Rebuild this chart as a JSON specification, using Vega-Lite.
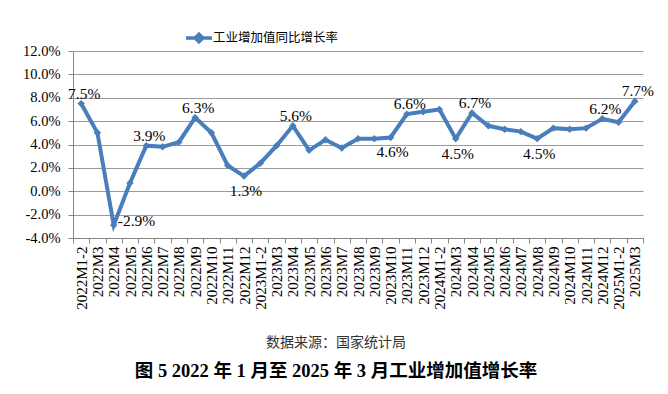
{
  "$schema": "https://vega.github.io/schema/vega-lite/v6.json",
  "autosize": "none",
  "width": 570,
  "height": 187,
  "padding": {"left": 73, "top": 51, "right": 25, "bottom": 156},
  "background": "white",
  "config": {
    "view": {"stroke": null},
    "locale": {"number": {"decimal": ".", "thousands": ",", "grouping": [3], "currency": ["$", ""], "minus": "-"}}
  },
  "title": {
    "text": "数据来源：国家统计局",
    "subtitle": "图 5 2022 年 1 月至 2025 年 3 月工业增加值增长率",
    "orient": "bottom",
    "anchor": "middle",
    "frame": "group",
    "dx": -22,
    "offset": 27,
    "font": "Noto Sans CJK SC",
    "fontSize": 14,
    "fontWeight": "normal",
    "color": "#333333",
    "subtitleFont": "Liberation Serif, Noto Sans CJK SC",
    "subtitleFontSize": 18.5,
    "subtitleFontWeight": "bold",
    "subtitleColor": "#000000",
    "subtitlePadding": 12
  },
  "data": {
    "values": [
      {"m": "2022M1-2", "v": 0.075, "s": "工业增加值同比增长率"},
      {"m": "2022M3", "v": 0.050, "s": "工业增加值同比增长率"},
      {"m": "2022M4", "v": -0.029, "s": "工业增加值同比增长率"},
      {"m": "2022M5", "v": 0.007, "s": "工业增加值同比增长率"},
      {"m": "2022M6", "v": 0.039, "s": "工业增加值同比增长率"},
      {"m": "2022M7", "v": 0.038, "s": "工业增加值同比增长率"},
      {"m": "2022M8", "v": 0.042, "s": "工业增加值同比增长率"},
      {"m": "2022M9", "v": 0.063, "s": "工业增加值同比增长率"},
      {"m": "2022M10", "v": 0.050, "s": "工业增加值同比增长率"},
      {"m": "2022M11", "v": 0.022, "s": "工业增加值同比增长率"},
      {"m": "2022M12", "v": 0.013, "s": "工业增加值同比增长率"},
      {"m": "2023M1-2", "v": 0.024, "s": "工业增加值同比增长率"},
      {"m": "2023M3", "v": 0.039, "s": "工业增加值同比增长率"},
      {"m": "2023M4", "v": 0.056, "s": "工业增加值同比增长率"},
      {"m": "2023M5", "v": 0.035, "s": "工业增加值同比增长率"},
      {"m": "2023M6", "v": 0.044, "s": "工业增加值同比增长率"},
      {"m": "2023M7", "v": 0.037, "s": "工业增加值同比增长率"},
      {"m": "2023M8", "v": 0.045, "s": "工业增加值同比增长率"},
      {"m": "2023M9", "v": 0.045, "s": "工业增加值同比增长率"},
      {"m": "2023M10", "v": 0.046, "s": "工业增加值同比增长率"},
      {"m": "2023M11", "v": 0.066, "s": "工业增加值同比增长率"},
      {"m": "2023M12", "v": 0.068, "s": "工业增加值同比增长率"},
      {"m": "2024M1-2", "v": 0.070, "s": "工业增加值同比增长率"},
      {"m": "2024M3", "v": 0.045, "s": "工业增加值同比增长率"},
      {"m": "2024M4", "v": 0.067, "s": "工业增加值同比增长率"},
      {"m": "2024M5", "v": 0.056, "s": "工业增加值同比增长率"},
      {"m": "2024M6", "v": 0.053, "s": "工业增加值同比增长率"},
      {"m": "2024M7", "v": 0.051, "s": "工业增加值同比增长率"},
      {"m": "2024M8", "v": 0.045, "s": "工业增加值同比增长率"},
      {"m": "2024M9", "v": 0.054, "s": "工业增加值同比增长率"},
      {"m": "2024M10", "v": 0.053, "s": "工业增加值同比增长率"},
      {"m": "2024M11", "v": 0.054, "s": "工业增加值同比增长率"},
      {"m": "2024M12", "v": 0.062, "s": "工业增加值同比增长率"},
      {"m": "2025M1-2", "v": 0.059, "s": "工业增加值同比增长率"},
      {"m": "2025M3", "v": 0.077, "s": "工业增加值同比增长率"}
    ]
  },
  "encoding": {
    "x": {
      "field": "m",
      "type": "nominal",
      "sort": null,
      "bandPosition": 0.5,
      "scale": {"type": "band", "paddingInner": 0, "paddingOuter": 0},
      "axis": {
        "title": null,
        "labelAngle": -90,
        "labelFont": "Liberation Serif",
        "labelFontSize": 15,
        "labelColor": "#000000",
        "labelPadding": 3,
        "tickBand": "extent",
        "tickSize": 5,
        "tickColor": "#868686",
        "domainColor": "#868686",
        "grid": false,
        "labelOverlap": false
      }
    },
    "y": {
      "field": "v",
      "type": "quantitative",
      "scale": {"domain": [-0.04, 0.12], "nice": false, "zero": false},
      "axis": {
        "title": null,
        "format": ".1%",
        "values": [-0.04, -0.02, 0, 0.02, 0.04, 0.06, 0.08, 0.10, 0.12],
        "labelFont": "Liberation Serif",
        "labelFontSize": 14.5,
        "labelColor": "#000000",
        "labelPadding": 8,
        "tickSize": 5,
        "tickColor": "#868686",
        "domainColor": "#868686",
        "gridColor": "#9a9a9a",
        "grid": true
      }
    }
  },
  "layer": [
    {
      "mark": {"type": "line", "strokeWidth": 4},
      "encoding": {
        "color": {
          "field": "s",
          "type": "nominal",
          "scale": {"range": ["#4A7EBB"]},
          "legend": {
            "title": null,
            "orient": "none",
            "legendX": 114,
            "legendY": -25,
            "direction": "horizontal",
            "symbolType": "M-1.3,0H1.3M0,-0.38L0.38,0L0,0.38L-0.38,0Z",
            "symbolSize": 400,
            "symbolStrokeWidth": 3.5,
            "labelFont": "Noto Sans CJK SC",
            "labelFontSize": 12.5,
            "labelColor": "#000000",
            "labelOffset": 2,
            "encode": {"symbols": {"update": {"fill": {"value": "#4A7EBB"}, "stroke": {"value": "#4A7EBB"}}}}
          }
        }
      }
    },
    {
      "mark": {"type": "point", "shape": "diamond", "filled": true, "size": 55, "opacity": 1},
      "encoding": {"color": {"field": "s", "type": "nominal"}}
    },
    {
      "transform": [{"filter": {"field": "m", "oneOf": ["2022M1-2", "2022M6", "2022M9", "2023M4", "2023M11", "2024M4", "2024M12", "2025M3"]}}],
      "mark": {"type": "text", "font": "Liberation Serif", "fontSize": 15.5, "baseline": "alphabetic", "align": "center", "dx": 3, "dy": -5, "color": "#000000"},
      "encoding": {"text": {"field": "v", "type": "quantitative", "format": ".1%"}}
    },
    {
      "transform": [{"filter": {"field": "m", "oneOf": ["2022M12", "2023M10", "2024M3", "2024M8"]}}],
      "mark": {"type": "text", "font": "Liberation Serif", "fontSize": 15.5, "baseline": "alphabetic", "align": "center", "dx": 2, "dy": 20, "color": "#000000"},
      "encoding": {"text": {"field": "v", "type": "quantitative", "format": ".1%"}}
    },
    {
      "transform": [{"filter": {"field": "m", "oneOf": ["2022M4"]}}],
      "mark": {"type": "text", "font": "Liberation Serif", "fontSize": 15.5, "baseline": "alphabetic", "align": "left", "dx": 4, "dy": 1, "color": "#000000"},
      "encoding": {"text": {"field": "v", "type": "quantitative", "format": ".1%"}}
    }
  ]
}
